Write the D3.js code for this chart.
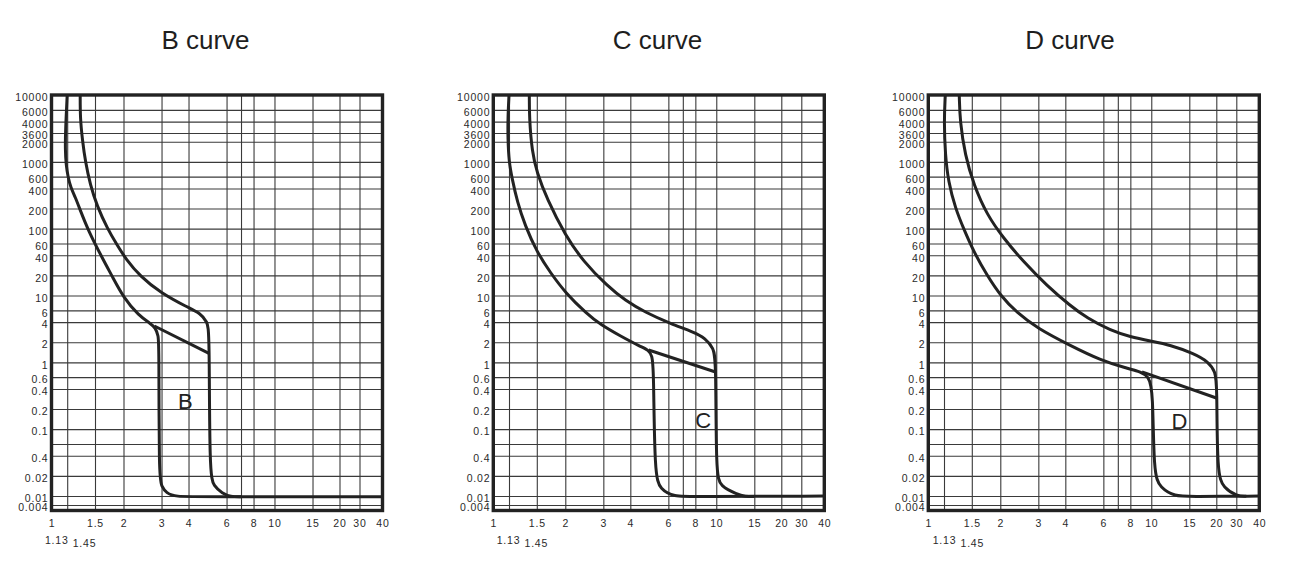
<!DOCTYPE html>
<html>
<head>
<meta charset="utf-8">
<script src="https://cdn.jsdelivr.net/npm/d3@7"></script>
<style>
  body { margin: 0; background: #fff; }
  text { font-family: "Liberation Sans", Arial, sans-serif; }
</style>
</head>
<body>
<div id="chart"></div>
<script>
// ---- data (x = multiple of In, y = seconds) ----
const panelTitles = ["B curve", "C curve", "D curve"];
const curveLetters = ["B", "C", "D"];

const xTicks = [1, 1.5, 2, 3, 4, 6, 8, 10, 15, 20, 30, 40];
const xSubTicks = [1.13, 1.5];
const xSubLabels = ["1.13", "1.45"];
const xGrid = [1.13, 1.5, 2, 3, 4, 6, 7, 8, 10, 15, 20, 30];

const yTicks = [10000, 6000, 4000, 2700, 2000, 1000, 600, 400, 200, 100, 60, 40, 20, 10,
  6, 4, 2, 1, 0.6, 0.4, 0.2, 0.1, 0.04, 0.02, 0.01, 0.004];
const yTickLabels = ["10000", "6000", "4000", "3600", "2000", "1000", "600", "400", "200", "100", "60", "40", "20", "10",
  "6", "4", "2", "1", "0.6", "0.4", "0.2", "0.1", "0.4", "0.02", "0.01", "0.004"];
const yGrid = [6000, 4000, 2700, 2000, 1000, 600, 400, 200, 100, 60, 40, 20, 10,
  6, 4, 2, 1, 0.6, 0.4, 0.2, 0.1, 0.06, 0.04, 0.02, 0.01, 0.004];

const bLower = [[1.13, 10000], [1.115, 3000], [1.113, 1500], [1.12, 900], [1.14, 590], [1.17, 420],
  [1.23, 290], [1.29, 190], [1.40, 94], [1.61, 37], [1.79, 19], [2.0, 9.3], [2.35, 5], [2.67, 3.8],
  [2.81, 3.3], [2.90, 2.5], [2.92, 1.8], [2.92, 0.019], [3.0, 0.014], [3.16, 0.011], [3.48, 0.0093],
  [4.5, 0.0093], [40, 0.0093]];
const bUpper = [[1.29, 10000], [1.29, 4500], [1.32, 2100], [1.36, 1000], [1.43, 450], [1.53, 220],
  [1.70, 100], [1.88, 56], [2.04, 36], [2.40, 19], [2.97, 11], [3.94, 6.7], [4.55, 5.4], [4.88, 4.0],
  [5.0, 3.0], [5.0, 0.021], [5.24, 0.014], [5.73, 0.011], [6.26, 0.0093], [7, 0.0093]];
const bSlope = [[2.78, 3.5], [5.0, 1.35]];

const cLower = [[1.13, 10000], [1.12, 4500], [1.12, 2200], [1.13, 1000], [1.165, 570], [1.23, 250],
  [1.33, 112], [1.50, 45], [1.72, 22], [2.0, 11], [2.52, 5.3], [2.90, 3.7], [3.59, 2.48], [4.45, 1.72],
  [4.86, 1.53], [5.04, 1.26], [5.13, 0.84], [5.18, 0.02], [5.51, 0.0126], [6.34, 0.0093], [8, 0.0094], [40, 0.0099]];
const cUpper = [[1.39, 10000], [1.39, 4500], [1.43, 1400], [1.50, 700], [1.66, 280], [2.0, 79],
  [2.43, 32], [3.12, 14], [3.79, 8.4], [4.69, 5.6], [6.13, 3.8], [7.83, 2.85], [8.9, 2.3],
  [9.72, 1.62], [9.97, 1.08], [9.97, 0.021], [10.44, 0.014], [12.5, 0.0106], [13.6, 0.0095], [15, 0.0095]];
const cSlope = [[4.86, 1.53], [10.0, 0.71]];

const dLower = [[1.145, 10000], [1.13, 4000], [1.145, 1270], [1.18, 510], [1.27, 200], [1.38, 100],
  [1.53, 45], [1.75, 20], [2.0, 10], [2.39, 5.5], [2.96, 3.26], [4.22, 1.78], [5.81, 1.08], [7.72, 0.81],
  [8.9, 0.73], [9.72, 0.61], [10.19, 0.39], [10.25, 0.021], [11.0, 0.0133], [12.9, 0.0095], [15, 0.0095], [40, 0.0099]];
const dUpper = [[1.32, 10000], [1.33, 4000], [1.40, 1270], [1.53, 450], [1.75, 160], [2.07, 72],
  [2.56, 32], [3.29, 14], [4.22, 7.0], [5.04, 4.6], [6.46, 3.0], [8.0, 2.4], [9.9, 2.08], [12.25, 1.82],
  [15.7, 1.36], [18.4, 1.02], [19.8, 0.72], [20.3, 0.46], [20.3, 0.021], [23.2, 0.0133], [30.3, 0.0097], [34, 0.0098]];
const dSlope = [[9.06, 0.72], [20.3, 0.29]];

const letterPos = [[3.87, 0.26], [8.7, 0.136], [13.5, 0.13]];

// ---- layout ----
const width = 1298, height = 568;
const pw = 331, ph = 415.5, plotTop = 95;
const panelLeft = [51.5, 493.3, 928.3];
const titleX = [205.5, 657.5, 1070];
const subShift = [-11, -1, 0];

const panels = [
  { lower: bLower, upper: bUpper, slope: bSlope },
  { lower: cLower, upper: cUpper, slope: cSlope },
  { lower: dLower, upper: dUpper, slope: dSlope }
];

// the printed axes are schematic, so both scales are piecewise-log
let x = d3.scaleLog()
  .domain([1, 1.13, 1.5, 2, 20, 30, 40])
  .range([0, 15.7, 43.5, 72, 288, 308, pw]);
let y = d3.scaleLog()
  .domain([0.003, 0.004, 0.01, 10000])
  .range([ph, ph - 5.5, ph - 14.5, 0]);

let svg = d3.select("#chart")
  .append("svg")
  .attr("width", width)
  .attr("height", height);

svg.append("rect").attr("width", width).attr("height", height).attr("fill", "#fff");

// basis smoothing evens out the hand-read points
let curveLine = d3.line()
  .x(function(d) { return x(d[0]); })
  .y(function(d) { return y(d[1]); })
  .curve(d3.curveBasis);

let straightLine = d3.line()
  .x(function(d) { return x(d[0]); })
  .y(function(d) { return y(d[1]); });

panels.forEach(function(p, i) {

  svg.append("text")
    .attr("x", titleX[i])
    .attr("y", 49)
    .attr("text-anchor", "middle")
    .attr("font-size", 26)
    .attr("fill", "#1e1e1e")
    .text(panelTitles[i]);

  let g = svg.append("g").attr("transform", "translate(" + panelLeft[i] + "," + plotTop + ")");

  // grid
  let gx = g.append("g")
    .call(d3.axisBottom(x).tickValues(xGrid).tickSize(ph).tickFormat(""));
  let gy = g.append("g")
    .call(d3.axisRight(y).tickValues(yGrid).tickSize(pw).tickFormat(""));
  [gx, gy].forEach(function(a) {
    a.select(".domain").remove();
    a.selectAll("line").attr("stroke", "#3a3a3a").attr("stroke-width", 1.1);
  });

  // tick labels
  let ay = g.append("g")
    .call(d3.axisLeft(y).tickValues(yTicks)
      .tickFormat(function(d, k) { return yTickLabels[k]; })
      .tickSize(0).tickPadding(3));
  ay.selectAll("text").attr("dy", "0.55em");
  let ax = g.append("g")
    .attr("transform", "translate(0," + ph + ")")
    .call(d3.axisBottom(x).tickValues(xTicks)
      .tickFormat(function(d) { return String(d); })
      .tickSize(0).tickPadding(9.5));
  let as = g.append("g")
    .attr("transform", "translate(0," + ph + ")")
    .call(d3.axisBottom(x).tickValues(xSubTicks)
      .tickFormat(function(d, k) { return xSubLabels[k]; })
      .tickSize(0).tickPadding(26));
  as.selectAll("text")
    .attr("dx", subShift[i])
    .attr("y", function(d, k) { return k === 1 ? 29 : 26; });
  [ay, ax, as].forEach(function(a) {
    a.select(".domain").remove();
    a.attr("font-family", null).attr("font-size", null);
    a.selectAll("text")
      .attr("font-size", 10.5)
      .attr("fill", "#2a2a2a")
      .style("letter-spacing", "0.8px");
  });

  // curves
  [p.lower, p.upper].forEach(function(c) {
    g.append("path")
      .datum(c)
      .attr("d", curveLine)
      .attr("fill", "none")
      .attr("stroke", "#222")
      .attr("stroke-width", 3)
      .attr("stroke-linejoin", "round");
  });
  g.append("path")
    .datum(p.slope)
    .attr("d", straightLine)
    .attr("fill", "none")
    .attr("stroke", "#222")
    .attr("stroke-width", 3);

  g.append("text")
    .attr("x", x(letterPos[i][0]))
    .attr("y", y(letterPos[i][1]))
    .attr("dy", "0.36em")
    .attr("text-anchor", "middle")
    .attr("font-size", 22)
    .attr("fill", "#222")
    .text(curveLetters[i]);

  // frame
  g.append("rect")
    .attr("width", pw)
    .attr("height", ph)
    .attr("fill", "none")
    .attr("stroke", "#222")
    .attr("stroke-width", 3.4);
});
</script>
</body>
</html>
